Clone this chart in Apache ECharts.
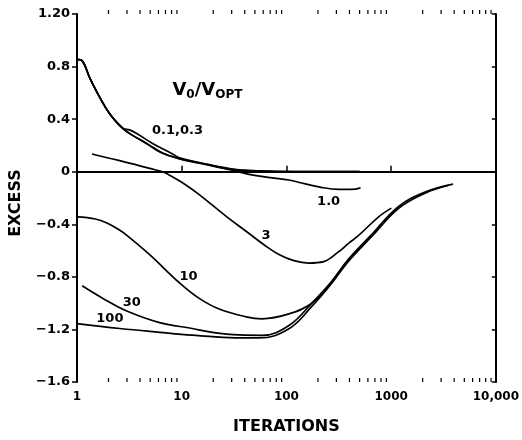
<!DOCTYPE html>
<html>
<head>
<meta charset="utf-8">
<script src="https://cdn.jsdelivr.net/npm/echarts@6/dist/echarts.min.js"></script>
<style>
  html, body { margin: 0; padding: 0; background: #fff; }
  #chart { width: 522px; height: 440px; }
</style>
</head>
<body>
<div id="chart"></div>
<script>
// Tick labels
const xTickLabels = ['1', '10', '100', '1000', '10,000'];
const yTickLabels = ['\u22121.6', '\u22121.2', '\u22120.8', '\u22120.4', '0', '0.4', '0.8', '1.20'];

// Excess vs. iterations, one curve per V0/Vopt ratio  [iterations, excess]
const v01 = [[1, 0.855], [1.116, 0.845], [1.33, 0.71], [1.65, 0.565], [2.06, 0.44], [2.74, 0.33],
  [3.19, 0.318], [3.72, 0.29], [5.27, 0.215], [8.18, 0.135], [9.52, 0.105], [14.7, 0.07],
  [30.4, 0.02], [55, 0.006], [120, 0.0], [500, 0.0]];
const v03 = [[1, 0.855], [1.116, 0.845], [1.33, 0.71], [1.65, 0.565], [2.06, 0.44], [2.74, 0.33],
  [3.19, 0.29], [4.63, 0.215], [6.56, 0.143], [9.52, 0.10], [14.7, 0.068], [30.4, 0.018],
  [55, 0.005], [120, 0.0], [500, 0.0]];
const v1 = [[1, 0.855], [1.116, 0.845], [1.33, 0.71], [1.65, 0.565], [2.06, 0.44], [2.74, 0.33],
  [3.19, 0.29], [4.63, 0.213], [6.56, 0.14], [9.52, 0.098], [14.7, 0.065], [30.4, 0.012],
  [44, -0.02], [70, -0.045], [105.6, -0.063], [130, -0.08], [204, -0.115], [316, -0.135],
  [420, -0.135], [510, -0.123]];
const v3 = [[1.39, 0.135], [2.56, 0.084], [4.94, 0.025], [6.85, -0.005], [7.65, -0.027],
  [10.6, -0.093], [14.7, -0.174], [26.6, -0.34], [44, -0.47], [61.1, -0.556], [84.9, -0.63],
  [117.9, -0.677], [163.6, -0.695], [227, -0.684], [314, -0.61], [392, -0.545], [489, -0.485],
  [755, -0.345], [1005, -0.277]];
const v10 = [[1, -0.344], [1.5, -0.36], [1.93, -0.39], [2.5, -0.44], [2.99, -0.484],
  [4.94, -0.631], [9.52, -0.846], [14.7, -0.964], [22.8, -1.045], [41.2, -1.104],
  [58.5, -1.119], [105.6, -1.082], [174.7, -1.0], [270, -0.84], [392, -0.67], [635, -0.49]];
const v30 = [[1.12, -0.868], [1.77, -0.964], [2.99, -1.06], [6.15, -1.148], [12.6, -1.193],
  [19.6, -1.222], [35.4, -1.242], [58.5, -1.245], [105.6, -1.17], [174.7, -1.0], [270, -0.835],
  [392, -0.665], [649, -0.48], [1172, -0.265], [2115, -0.155], [3902, -0.095]];
const v100 = [[1, -1.156], [2.56, -1.193], [6.15, -1.222], [12.6, -1.244], [28.4, -1.262],
  [55, -1.265], [105.6, -1.195], [174.7, -1.025], [270, -0.85], [392, -0.68], [649, -0.495],
  [1172, -0.28], [2115, -0.163], [3500, -0.105]];

const FONT = 'DejaVu Sans';
const X_MIN = 1, X_MAX = 10000, Y_MIN = -1.6, Y_MAX = 1.2;

// 2..9 within every decade, for the log-axis minor ticks
const minorTicks = [];
for (let d = 1; d < X_MAX; d *= 10) {
  for (let k = 2; k <= 9; k++) minorTicks.push([d * k, 0]);
}

const textBase = { color: '#000', fontFamily: FONT, fontWeight: 'bold' };

function curveLabel(coord, text) {
  return {
    symbol: 'circle', symbolSize: 0, silent: true,
    label: Object.assign({ show: true, position: 'inside', fontSize: 13, formatter: text }, textBase),
    data: [{ coord: coord }]
  };
}

function curve(name, data, label) {
  const s = {
    type: 'line', name: name, data: data, smooth: 0.4, symbol: 'none',
    lineStyle: { color: '#000', width: 1.7 }, silent: true, z: 3
  };
  if (label) s.markPoint = label;
  return s;
}

const chart = echarts.init(document.getElementById('chart'), null, { renderer: 'canvas' });

const logAxis = {
  type: 'log', logBase: 10, min: X_MIN, max: X_MAX,
  axisLine: { lineStyle: { color: '#000', width: 2 } },
  splitLine: { show: false }
};
const valAxis = {
  type: 'value', min: Y_MIN, max: Y_MAX, interval: 0.4,
  axisLine: { show: true, lineStyle: { color: '#000', width: 2 } },
  splitLine: { show: false }
};

chart.setOption({
  animation: false,
  backgroundColor: '#fff',
  grid: { left: 77, right: 24, top: 14, bottom: 47 },
  xAxis: [
    Object.assign({}, logAxis, {
      position: 'bottom',
      axisTick: { inside: true, length: 6, lineStyle: { color: '#000', width: 1.5 } },
      axisLabel: Object.assign({
        fontSize: 12, margin: 9,
        formatter: v => xTickLabels[Math.round(Math.log10(v))]
      }, textBase),
      name: 'ITERATIONS', nameLocation: 'middle', nameGap: 37,
      nameTextStyle: Object.assign({ fontSize: 16 }, textBase)
    }),
    Object.assign({}, logAxis, {
      position: 'top',
      axisTick: { inside: false, length: 5, lineStyle: { color: '#000', width: 1.5 } },
      axisLabel: { show: false }
    })
  ],
  yAxis: [
    Object.assign({}, valAxis, {
      position: 'left',
      axisTick: { inside: false, length: 5, lineStyle: { color: '#000', width: 1.5 } },
      axisLabel: Object.assign({
        fontSize: 13, margin: 7,
        formatter: v => yTickLabels[Math.round((v - Y_MIN) / 0.4)]
      }, textBase)
    }),
    Object.assign({}, valAxis, {
      position: 'right',
      axisTick: { inside: true, length: 4, lineStyle: { color: '#000', width: 1.5 } },
      axisLabel: { show: false }
    })
  ],
  graphic: [{
    type: 'text',
    x: 16, y: 203,
    rotation: Math.PI / 2,
    style: {
      text: 'EXCESS', fontSize: 16, fontWeight: 'bold', fontFamily: FONT,
      align: 'center', verticalAlign: 'middle', fill: '#000'
    }
  }],
  series: [
    {
      type: 'custom', data: minorTicks, encode: { x: 0, y: 1 }, clip: false, silent: true,
      renderItem: function (params, api) {
        const x = api.value(0);
        const b = api.coord([x, Y_MIN]);
        const t = api.coord([x, Y_MAX]);
        return {
          type: 'group', children: [
            { type: 'line', shape: { x1: b[0], y1: b[1], x2: b[0], y2: b[1] - 4 },
              style: { stroke: '#000', lineWidth: 1.2 } },
            { type: 'line', shape: { x1: t[0], y1: t[1], x2: t[0], y2: t[1] - 4 },
              style: { stroke: '#000', lineWidth: 1.2 } }
          ]
        };
      }
    },
    Object.assign(curve('0.1', v01, curveLabel([9.1, 0.314], '0.1,0.3')), {
      markLine: {
        silent: true, symbol: ['none', 'none'],
        label: { show: false },
        lineStyle: { color: '#000', width: 1.5, type: 'solid' },
        data: [{ yAxis: 0 }]
      }
    }),
    curve('0.3', v03),
    curve('1.0', v1, curveLabel([253, -0.225], '1.0')),
    curve('3', v3, curveLabel([64, -0.485], '3')),
    curve('10', v10, curveLabel([11.6, -0.80], '10')),
    curve('30', v30, curveLabel([3.33, -0.994], '30')),
    curve('100', v100, curveLabel([2.06, -1.12], '100')),
    {
      type: 'line', data: [], silent: true,
      markPoint: {
        symbol: 'circle', symbolSize: 0, silent: true,
        label: {
          show: true, position: 'inside',
          formatter: '{v|V}{s|0}{v|/V}{s|OPT}',
          rich: {
            v: Object.assign({ fontSize: 18 }, textBase),
            s: Object.assign({ fontSize: 12, padding: [9, 0, 0, 0] }, textBase)
          }
        },
        data: [{ coord: [17.6, 0.62] }]
      }
    }
  ]
});
</script>
</body>
</html>
